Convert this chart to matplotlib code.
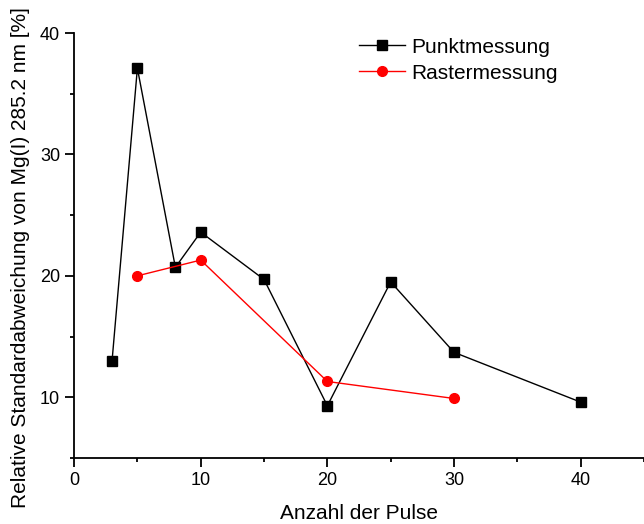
import matplotlib
matplotlib.use('Agg')
import matplotlib.pyplot as plt
from matplotlib.ticker import MultipleLocator

plt.rcParams['font.family'] = ['Liberation Sans', 'DejaVu Sans']

# Punktmessung
punkt_x = [3, 5, 8, 10, 15, 20, 25, 30, 40]
punkt_y = [13.0, 37.1, 20.7, 23.6, 19.7, 9.3, 19.5, 13.7, 9.6]

# Rastermessung
raster_x = [5, 10, 20, 30]
raster_y = [20.0, 21.3, 11.3, 9.9]

fig = plt.figure(figsize=(6.44, 5.24), dpi=100)
ax = fig.add_axes([0.115, 0.126, 0.885, 0.811])

ax.plot(punkt_x, punkt_y, color='black', marker='s', markersize=7, linewidth=1, label='Punktmessung')
ax.plot(raster_x, raster_y, color='red', marker='o', markersize=7, linewidth=1, label='Rastermessung')

ax.set_xlim(0, 45)
ax.set_ylim(5, 40)
ax.xaxis.set_major_locator(MultipleLocator(10))
ax.xaxis.set_minor_locator(MultipleLocator(5))
ax.yaxis.set_major_locator(MultipleLocator(10))
ax.yaxis.set_minor_locator(MultipleLocator(5))
ax.tick_params(which='major', length=6.5, width=1.3, labelsize=13)
ax.tick_params(which='minor', length=3, width=1.3)

for side in ['top', 'right']:
    ax.spines[side].set_visible(False)
for side in ['left', 'bottom']:
    ax.spines[side].set_linewidth(1.3)

ax.set_xlabel('Anzahl der Pulse', fontsize=15, labelpad=11)
ax.set_ylabel('Relative Standardabweichung von Mg(I) 285.2 nm [%]', fontsize=15)
ax.yaxis.set_label_coords(-0.077, 0.471)

ax.legend(loc='upper left', bbox_to_anchor=(0.467, 1.033), frameon=False, fontsize=15,
          handlelength=2.2, handletextpad=0.3, labelspacing=0.33)

fig.savefig('out.png', dpi=100)
